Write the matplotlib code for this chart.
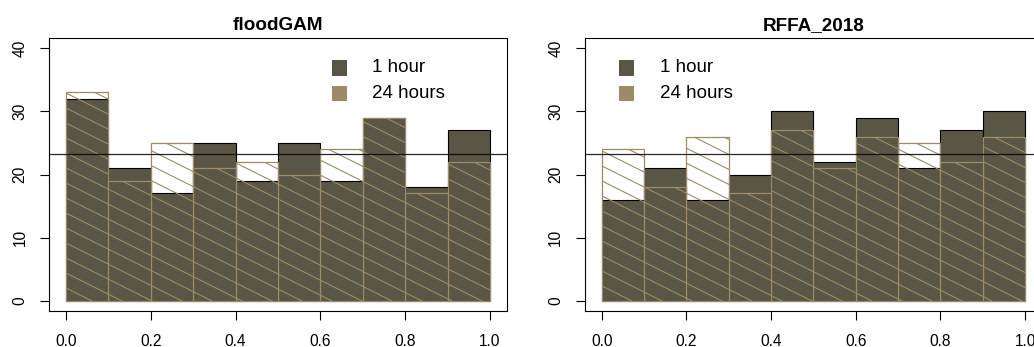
import numpy as np
import matplotlib
matplotlib.use("Agg")
import matplotlib.pyplot as plt
from matplotlib.patches import Rectangle
from matplotlib.collections import LineCollection

# ---- data ----
bin_edges = [0.0, 0.1, 0.2, 0.3, 0.4, 0.5, 0.6, 0.7, 0.8, 0.9, 1.0]
titles = ["floodGAM", "RFFA_2018"]
series_labels = ["1 hour", "24 hours"]
floodgam_1h = [32, 21, 17, 25, 19, 25, 19, 29, 18, 27]
floodgam_24h = [33, 19, 25, 21, 22, 20, 24, 29, 17, 22]
rffa_1h = [16, 21, 16, 20, 30, 22, 29, 21, 27, 30]
rffa_24h = [24, 18, 26, 17, 27, 21, 26, 25, 22, 26]
expected = 23.2
xticks = [0.0, 0.2, 0.4, 0.6, 0.8, 1.0]
yticks = [0, 10, 20, 30, 40]

DARK = "#5a5646"
TAN = "#9c8b66"

plt.rcParams["font.family"] = ["Liberation Sans", "DejaVu Sans"]

W, H = 1034, 347
fig = plt.figure(figsize=(W / 100, H / 100), dpi=100)

def px_axes(l, t, r, b):
    return [l / W, (H - b) / H, (r - l) / W, (b - t) / H]

ax1 = fig.add_axes(px_axes(49, 38, 507, 311))
ax2 = fig.add_axes(px_axes(584.7, 38, 1042, 311))

def draw(ax, title, v1, v24, leg_sq_x, leg_txt_x):
    edges = np.array(bin_edges)
    lefts = edges[:-1]
    widths = np.diff(edges)
    ax.set_xlim(-0.04, 1.04)
    ax.set_ylim(-1.6, 41.6)
    ax.bar(lefts, v1, width=widths, align="edge", color=DARK,
           edgecolor="black", linewidth=0.8, zorder=2)
    bars24 = ax.bar(lefts, v24, width=widths, align="edge", fill=False,
                    edgecolor=TAN, linewidth=0.9, zorder=3)
    # hatch lines (pixel-space pattern), clipped to each 24h bar
    fig.canvas.draw()
    tr = ax.transData
    inv = tr.inverted()
    s = 0.5
    sp = 15.0
    phase = 2.0
    for rect in bars24.patches:
        x0, y0 = rect.get_x(), rect.get_y()
        x1, y1 = x0 + rect.get_width(), y0 + rect.get_height()
        (px0, py0), (px1, py1) = tr.transform([(x0, y0), (x1, y1)])
        cmin = py0 + s * px0
        cmax = py1 + s * px1
        kmin = int(np.floor((cmin - phase) / sp)) - 1
        kmax = int(np.ceil((cmax - phase) / sp)) + 1
        segs = []
        for k in range(kmin, kmax + 1):
            c = phase + k * sp
            pa = (px0 - 2, c - s * (px0 - 2))
            pb = (px1 + 2, c - s * (px1 + 2))
            segs.append(inv.transform([pa, pb]))
        lc = LineCollection(segs, colors=TAN, linewidths=0.8,
                            transform=ax.transData, zorder=3)
        ax.add_collection(lc, autolim=False)
        lc.set_clip_path(rect)
    ax.axhline(expected, color="black", linewidth=0.9, alpha=0.85, zorder=4)
    ax.set_xticks(xticks)
    ax.set_xticklabels([f"{t:.1f}" for t in xticks])
    ax.set_yticks(yticks)
    ax.set_yticklabels([str(t) for t in yticks], rotation=90, va="center")
    ax.tick_params(axis="both", direction="out", length=6.5, width=0.8,
                   labelsize=11.2, color="black")
    ax.tick_params(axis="x", pad=10)
    ax.tick_params(axis="y", pad=9)
    for sp_ in ax.spines.values():
        sp_.set_linewidth(0.8)
    ax.set_title(title, fontsize=13.6, fontweight="bold", pad=6)
    # legend (manual, in pixel-derived axes fraction)
    bb = ax.get_window_extent()
    def afx(px):
        return (px - bb.x0) / bb.width
    def afy(py_top):
        return ((H - py_top) - bb.y0) / bb.height
    for i, (lab, col) in enumerate(zip(series_labels, [DARK, TAN])):
        yc = 68 + 25 * i
        ax.add_patch(Rectangle((afx(leg_sq_x - 7.5), afy(yc + 7.5)),
                               15 / bb.width, 15 / bb.height,
                               transform=ax.transAxes, facecolor=col,
                               edgecolor="none", zorder=5, clip_on=False))
        ax.text(afx(leg_txt_x), afy(yc), lab, transform=ax.transAxes,
                fontsize=13.5, va="center", ha="left", zorder=5)

draw(ax1, titles[0], floodgam_1h, floodgam_24h, 339.5, 372)
draw(ax2, titles[1], rffa_1h, rffa_24h, 626.5, 659.7)

fig.savefig("out.png", dpi=100)
